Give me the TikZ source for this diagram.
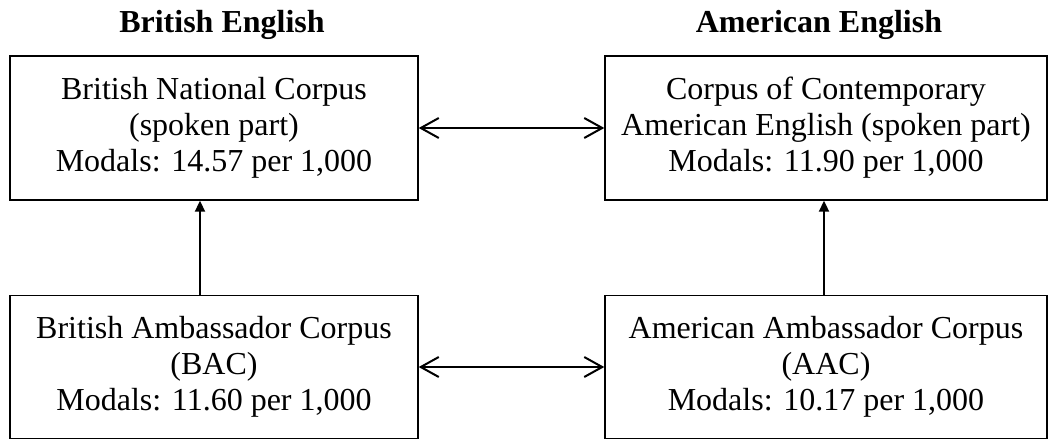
\documentclass[tikz,border=0pt]{standalone}
\usepackage{fontspec}
\setmainfont{Liberation Serif}
\usetikzlibrary{arrows.meta}

\begin{document}
\begin{tikzpicture}[x=1pt,y=-1pt,
  corpus/.style={draw, line width=1.4pt, align=center, inner sep=0pt,
    font=\fontsize{32}{36}\selectfont},
  heading/.style={anchor=base, font=\fontsize{32}{36}\selectfont\bfseries},
  pair/.style={line width=2pt, {Straight Barb[length=18pt,width=20pt]}-{Straight Barb[length=18pt,width=20pt]}},
  up/.style={line width=2pt, -{Triangle[length=11pt,width=10pt]}}]
\useasboundingbox (0,0) rectangle (1049,439);
\node[heading] (be) at (222,32) {British English};
\node[heading] (ae) at (819,32) {American English};
\node[corpus, minimum width=408, minimum height=144] (bnc) at (214,128)
  {British National Corpus\\(spoken part)\\Modals: 14.57 per 1,000};
\node[corpus, minimum width=442, minimum height=144] (coca) at (826,128)
  {Corpus of Contemporary\\American English (spoken part)\\Modals: 11.90 per 1,000};
\node[corpus, minimum width=408, minimum height=143] (bac) at (214,367)
  {British Ambassador Corpus\\(BAC)\\Modals: 11.60 per 1,000};
\node[corpus, minimum width=442, minimum height=143] (aac) at (826,367)
  {American Ambassador Corpus\\(AAC)\\Modals: 10.17 per 1,000};
\draw[pair] (bnc.east) -- (coca.west);
\draw[pair] (bac.east) -- (aac.west);
\draw[up] ([xshift=-14pt]bac.north) -- ([xshift=-14pt]bnc.south);
\draw[up] ([xshift=-2pt]aac.north) -- ([xshift=-2pt]coca.south);
\end{tikzpicture}
\end{document}
